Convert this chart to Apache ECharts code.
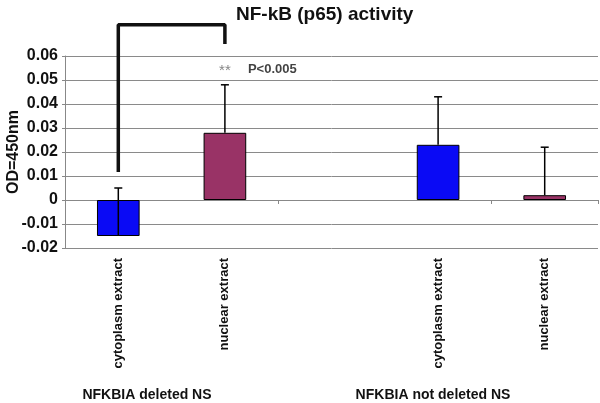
<!DOCTYPE html>
<html><head><meta charset="utf-8">
<script src="https://cdn.jsdelivr.net/npm/echarts@6/dist/echarts.min.js"></script>
<style>html,body{margin:0;padding:0;background:#fff}#c{width:600px;height:403px}</style>
</head><body><div id="c"></div>
<script>
var categories = ['cytoplasm extract', 'nuclear extract', '', 'cytoplasm extract', 'nuclear extract'];
var values = [-0.015, 0.028, null, 0.023, 0.002];
var errors = [0.02, 0.02, null, 0.02, 0.02];
var barColors = ['#0A0AF5', '#993366', '#fff', '#0A0AF5', '#993366'];
var groupLabels = ['NFKBIA deleted NS', 'NFKBIA not deleted NS'];
var bracket = [[0, 0.0117], [0, 0.073], [1, 0.073], [1, 0.065]];
var sigPoint = [1, 0.054];
var yTicks = {min: -0.02, max: 0.06, interval: 0.01};

var chart = echarts.init(document.getElementById('c'), null, {renderer: 'canvas'});
var F = 'Liberation Sans, Arial, sans-serif';
chart.setOption({
  animation: false,
  title: {text: 'NF-kB (p65) activity', left: 231, top: 0,
    textStyle: {fontFamily: F, fontWeight: 'bold', fontSize: 19, color: '#111'}},
  grid: {left: 65, right: 2, top: 56, bottom: 155, containLabel: false, outerBoundsMode: 'none'},
  xAxis: [{
    type: 'category', data: categories, position: 'bottom',
    axisLine: {show: false, onZero: false}, axisTick: {show: false},
    axisLabel: {rotate: 90, interval: 0, margin: 10, fontFamily: F, fontSize: 13, fontWeight: 'bold', color: '#111'}
  }, {
    type: 'category', data: categories, position: 'top',
    axisLine: {show: true, onZero: true, onZeroAxisIndex: 0, lineStyle: {color: '#888', width: 1}},
    axisTick: {show: true, inside: true, length: 4, lineStyle: {color: '#888'}},
    axisLabel: {show: false}
  }],
  yAxis: {
    type: 'value', min: yTicks.min, max: yTicks.max, interval: yTicks.interval,
    name: 'OD=450nm', nameLocation: 'middle', nameGap: 43, nameMoveOverlap: false,
    nameTextStyle: {fontFamily: F, fontWeight: 'bold', fontSize: 16, color: '#111'},
    axisLine: {show: true, lineStyle: {color: '#888'}},
    axisTick: {show: true, length: 3, lineStyle: {color: '#888'}},
    axisLabel: {margin: 7, fontFamily: F, fontWeight: 'bold', fontSize: 16, color: '#111',
      formatter: function (v) { return String(Math.round(v * 100) / 100); }},
    splitLine: {show: true, lineStyle: {color: '#8a8a8a', width: 1}}
  },
  series: [{
    type: 'bar', barWidth: '40%',
    data: values.map(function (v, i) {
      return {value: v, itemStyle: {color: barColors[i], borderColor: '#000', borderWidth: 1}};
    })
  }, {
    type: 'custom', z: 5,
    renderItem: function (params, api) {
      var i = api.value(0);
      var v = api.value(1), e = api.value(2);
      var p0 = api.coord([i, v]);
      var p1 = api.coord([i, v + e]);
      return {type: 'group', children: [
        {type: 'line', shape: {x1: p0[0], y1: p0[1], x2: p1[0], y2: p1[1]}, style: {stroke: '#000', lineWidth: 1.5}},
        {type: 'line', shape: {x1: p1[0] - 4, y1: p1[1], x2: p1[0] + 4, y2: p1[1]}, style: {stroke: '#000', lineWidth: 1.5}}
      ]};
    },
    data: values.map(function (v, i) { return v === null ? null : [i, v, errors[i]]; }).filter(function (d) { return d; })
  }, {
    type: 'line', data: bracket, symbol: 'none', clip: false, z: 6,
    lineStyle: {color: '#111', width: 3.5}
  }, {
    type: 'scatter', symbolSize: 0, data: [sigPoint], z: 7,
    label: {show: true, position: 'inside', formatter: '**', fontFamily: F, fontSize: 15, color: '#666'}
  }, {
    type: 'scatter', symbolSize: 0, data: [sigPoint], z: 7,
    label: {show: true, position: 'inside', align: 'left', offset: [23, -1], formatter: 'P<0.005',
      fontFamily: F, fontSize: 13, fontWeight: 'bold', color: '#111'}
  }],
  graphic: [
    {type: 'text', x: 147, y: 395, style: {text: groupLabels[0], textAlign: 'center', textVerticalAlign: 'middle',
      font: 'bold 14px Liberation Sans, Arial, sans-serif', fill: '#111'}},
    {type: 'text', x: 433, y: 395, style: {text: groupLabels[1], textAlign: 'center', textVerticalAlign: 'middle',
      font: 'bold 14px Liberation Sans, Arial, sans-serif', fill: '#111'}}
  ]
});
</script></body></html>
